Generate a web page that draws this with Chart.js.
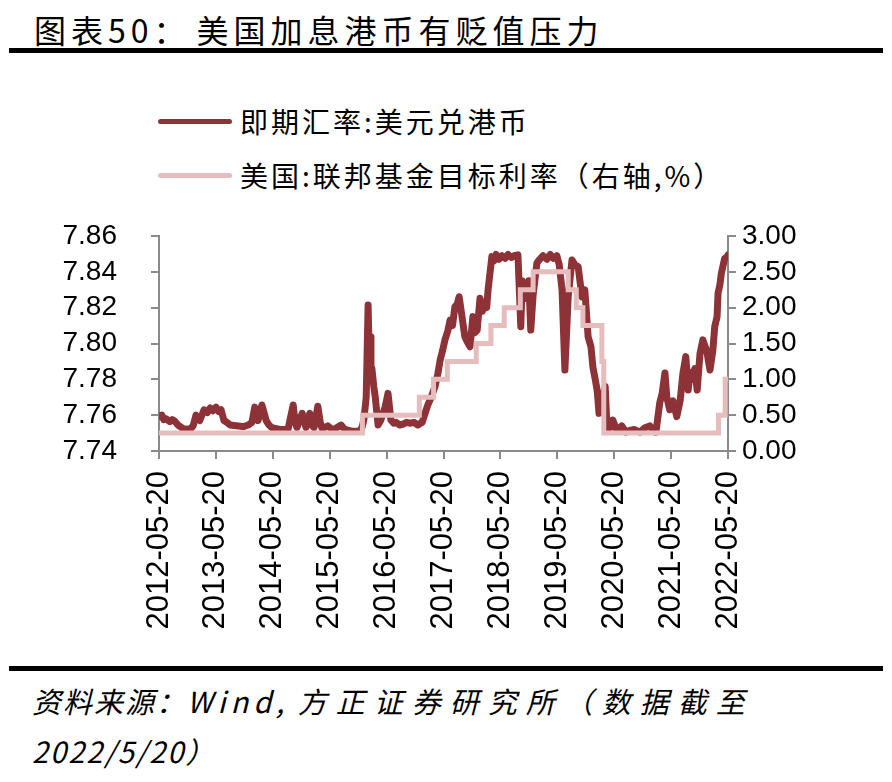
<!DOCTYPE html>
<html>
<head>
<meta charset="utf-8">
<script src="https://cdn.jsdelivr.net/npm/chart.js@4.4.1/dist/chart.umd.min.js"></script>
<style>
  body { margin: 0; background: #fff; }
  .page { position: relative; width: 892px; height: 782px; overflow: hidden; background: #fff; }
  .title { position: absolute; left: 34px; top: 6px; font: 32px "Noto Sans CJK SC"; letter-spacing: 5px; color: #000; white-space: nowrap; }
  .rule { position: absolute; left: 9px; width: 874px; height: 5px; background: #000; }
  .legend { position: absolute; left: 158px; top: 94px; font: 28px "Noto Sans CJK SC"; letter-spacing: 3px; color: #000; }
  .legend-item { display: flex; align-items: center; height: 54px; white-space: nowrap; }
  .legend-swatch { width: 74px; height: 5px; border-radius: 3px; margin-right: 8px; }
  .source { position: absolute; left: 32px; top: 675px; font: italic 29px "Noto Sans CJK SC"; letter-spacing: 2px; line-height: 50px; color: #000; white-space: nowrap; }
  #chart { position: absolute; left: 0; top: 200px; }
</style>
</head>
<body>
<div class="page">
  <div class="title">图表50：<span style="margin-left:6px">美国加息港币有贬值压力</span></div>
  <div class="rule" style="top:48px"></div>
  <div class="legend" id="legend"></div>
  <canvas id="chart" width="892" height="440"></canvas>
  <div class="rule" style="top:666px"></div>
  <div class="source">资料来源：<span style="letter-spacing:5px">Wind,</span> <span style="letter-spacing:9px">方正证券研究所（数据截至</span><br>2022/5/20）</div>
</div>
<script>
// x values are months counted from 2012-05-20
const xTickLabels = ['2012-05-20', '2013-05-20', '2014-05-20', '2015-05-20', '2016-05-20',
  '2017-05-20', '2018-05-20', '2019-05-20', '2020-05-20', '2021-05-20', '2022-05-20'];

const hkdMonths = [
  0.0, 0.6, 1.0, 1.5, 2.3, 2.8, 3.2, 4.0, 5.1, 6.5,
  7.2, 7.8, 8.6, 9.5, 10.2, 10.8, 11.4, 12.0, 12.6, 13.1,
  13.7, 14.3, 15.0, 16.7, 17.8, 18.8, 19.6, 20.2, 20.9, 21.7,
  22.6, 23.2, 23.8, 25.5, 27.2, 28.3, 28.7, 29.1, 29.6, 30.2,
  31.0, 31.8, 32.2, 32.7, 33.5, 34.0, 34.4, 35.6, 36.3, 36.9,
  38.4, 39.0, 39.6, 40.9, 42.2, 42.8, 43.2, 43.7, 44.1, 44.3,
  44.5, 44.7, 44.9, 45.3, 45.6, 46.2, 46.8, 47.7, 48.3, 48.9,
  49.5, 50.0, 50.8, 51.5, 52.2, 52.9, 53.8, 54.6, 55.5, 56.1,
  56.7, 57.4, 58.2, 58.8, 59.3, 59.8, 60.3, 60.9, 61.4, 61.9,
  62.4, 62.9, 63.3, 63.9, 64.5, 65.0, 65.6, 66.2, 66.6, 67.1,
  67.7, 68.2, 68.7, 69.1, 69.4, 70.2, 70.6, 71.1, 71.7, 72.3,
  73.0, 73.6, 74.3, 74.9, 75.7, 76.3, 76.6, 77.0, 77.6, 78.0,
  78.4, 78.9, 79.7, 80.3, 81.0, 81.8, 82.5, 83.2, 83.9, 84.4,
  85.0, 85.6, 86.3, 87.1, 87.7, 88.4, 89.2, 89.8, 90.5, 91.1,
  91.5, 92.0, 92.4, 92.8, 93.4, 94.1, 94.5, 95.1, 95.7, 96.6,
  97.6, 98.5, 99.3, 100.2, 101.4, 102.5, 103.5, 104.2, 104.8, 105.6,
  106.1, 106.7, 107.1, 107.7, 108.4, 109.2, 109.9, 110.5, 111.1, 111.6,
  112.0, 112.4, 113.0, 113.5, 114.1, 114.7, 115.1, 115.5, 116.2, 116.8,
  117.2, 117.7, 117.9, 118.3, 118.6, 119.0, 119.3, 119.7, 120.0
];
const hkdRates = [
  7.7595, 7.7600, 7.7575, 7.7580, 7.7564, 7.7575, 7.7570, 7.7545, 7.7525, 7.7520,
  7.7540, 7.7600, 7.7570, 7.7630, 7.7615, 7.7640, 7.7625, 7.7645, 7.7620, 7.7630,
  7.7570, 7.7560, 7.7545, 7.7540, 7.7535, 7.7545, 7.7560, 7.7645, 7.7570, 7.7657,
  7.7570, 7.7545, 7.7530, 7.7520, 7.7520, 7.7657, 7.7560, 7.7530, 7.7570, 7.7610,
  7.7530, 7.7610, 7.7545, 7.7530, 7.7650, 7.7560, 7.7525, 7.7540, 7.7525, 7.7520,
  7.7545, 7.7525, 7.7518, 7.7510, 7.7510, 7.7530, 7.7573, 7.7700, 7.8215, 7.7964,
  7.8038, 7.7796, 7.7860, 7.7759, 7.7703, 7.7545, 7.7573, 7.7647, 7.7722, 7.7573,
  7.7555, 7.7560, 7.7545, 7.7550, 7.7560, 7.7555, 7.7560, 7.7545, 7.7560, 7.7610,
  7.7657, 7.7700, 7.7759, 7.7830, 7.7908, 7.7960, 7.8020, 7.8070, 7.8131, 7.8100,
  7.8205, 7.8220, 7.8261, 7.8150, 7.8038, 7.8010, 7.7982, 7.8150, 7.8060, 7.8075,
  7.8252, 7.8180, 7.8224, 7.8200, 7.8299, 7.8485, 7.8460, 7.8497, 7.8470, 7.8490,
  7.8475, 7.8497, 7.8480, 7.8490, 7.8495, 7.8094, 7.8350, 7.8300, 7.8250, 7.8350,
  7.8075, 7.8270, 7.8450, 7.8470, 7.8490, 7.8470, 7.8497, 7.8475, 7.8490, 7.8440,
  7.8300, 7.7852, 7.8260, 7.8466, 7.8440, 7.8429, 7.8260, 7.8300, 7.8038, 7.7982,
  7.7870, 7.7800, 7.7740, 7.7610, 7.7680, 7.7760, 7.7517, 7.7530, 7.7573, 7.7510,
  7.7540, 7.7505, 7.7515, 7.7520, 7.7505, 7.7530, 7.7540, 7.7515, 7.7505, 7.7668,
  7.7720, 7.7835, 7.7700, 7.7630, 7.7680, 7.7592, 7.7680, 7.7835, 7.7927, 7.7740,
  7.7840, 7.7800, 7.7860, 7.7740, 7.7945, 7.8020, 7.7990, 7.7960, 7.7852, 7.7960,
  7.8094, 7.8150, 7.8280, 7.8330, 7.8392, 7.8440, 7.8475, 7.8480, 7.8494
];

const fedMonths = [0, 42.9, 54.9, 57.9, 60.8, 66.9, 70.0, 72.8, 76.2, 78.9, 86.3, 88.0, 89.4, 93.4, 93.8, 118.0, 119.4, 120];
const fedRates  = [0.25, 0.50, 0.75, 1.00, 1.25, 1.50, 1.75, 2.00, 2.25, 2.50, 2.25, 2.00, 1.75, 1.25, 0.25, 0.50, 1.00, 1.00];

const axisGrey = '#8a8a8a';
const tickFont = { family: 'Liberation Sans', size: 28 };

// pin the axis boxes so the plot sits where the reference has it
const fixWidth = (w) => (scale) => {
  scale.width = w;
  scale.paddingTop = 0;
  scale.paddingBottom = 0;
};

const chart = new Chart(document.getElementById('chart'), {
  type: 'line',
  data: {
    datasets: [
      {
        label: '即期汇率:美元兑港币',
        data: hkdMonths.map((m, i) => ({ x: m, y: hkdRates[i] })),
        borderColor: '#8d3338',
        borderWidth: 7,
        borderJoinStyle: 'round',
        borderCapStyle: 'round',
        pointRadius: 0,
        tension: 0,
        yAxisID: 'y',
        order: 1
      },
      {
        label: '美国:联邦基金目标利率（右轴,%）',
        data: fedMonths.map((m, i) => ({ x: m, y: fedRates[i] })),
        borderColor: '#e6bcbc',
        borderWidth: 5,
        stepped: true,
        pointRadius: 0,
        yAxisID: 'y1',
        order: 0
      }
    ]
  },
  options: {
    responsive: false,
    animation: false,
    layout: { padding: { top: 36 } },
    plugins: { legend: { display: false }, tooltip: { enabled: false } },
    scales: {
      x: {
        type: 'linear',
        min: 0,
        max: 120,
        grid: { drawOnChartArea: false, color: axisGrey, lineWidth: 2, tickLength: 8 },
        border: { color: axisGrey, width: 2 },
        ticks: {
          stepSize: 12,
          autoSkip: false,
          minRotation: 90,
          maxRotation: 90,
          padding: 12,
          color: '#000',
          font: { family: 'Liberation Sans', size: 31 },
          callback: (v) => xTickLabels[Math.round(v / 12)]
        },
        afterFit: (scale) => { scale.height = 189; }
      },
      y: {
        position: 'left',
        min: 7.74,
        max: 7.86,
        grid: { drawOnChartArea: false, color: axisGrey, lineWidth: 2, tickLength: 8 },
        border: { color: axisGrey, width: 2 },
        ticks: { stepSize: 0.02, autoSkip: false, padding: 34, color: '#000', font: tickFont, callback: (v) => v.toFixed(2) },
        afterFit: fixWidth(159)
      },
      y1: {
        position: 'right',
        min: 0,
        max: 3,
        grid: { drawOnChartArea: false, color: axisGrey, lineWidth: 2, tickLength: 8 },
        border: { color: axisGrey, width: 2 },
        ticks: { stepSize: 0.5, autoSkip: false, padding: 6, color: '#000', font: tickFont, callback: (v) => v.toFixed(2) },
        afterFit: fixWidth(164)
      }
    }
  }
});

const legendBox = document.getElementById('legend');
chart.data.datasets.forEach((ds) => {
  const item = document.createElement('div');
  item.className = 'legend-item';
  const swatch = document.createElement('span');
  swatch.className = 'legend-swatch';
  swatch.style.background = ds.borderColor;
  const text = document.createElement('span');
  text.textContent = ds.label;
  item.appendChild(swatch);
  item.appendChild(text);
  legendBox.appendChild(item);
});
</script>
</body>
</html>
